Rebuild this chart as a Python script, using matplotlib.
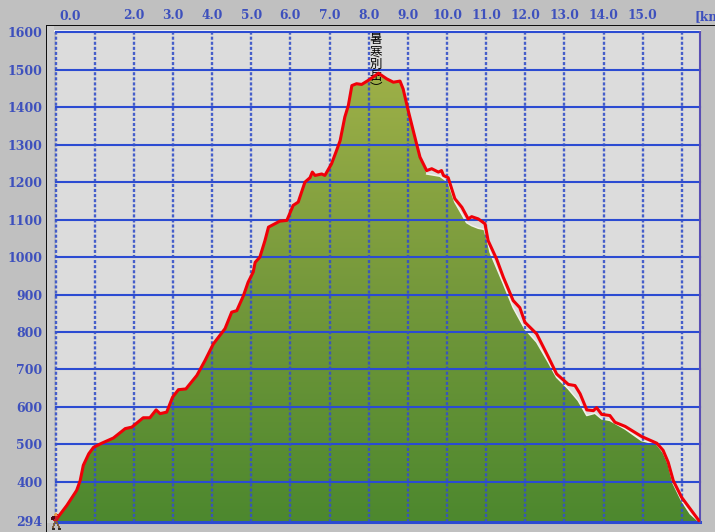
import numpy as np
import matplotlib
matplotlib.use("Agg")
import matplotlib.pyplot as plt
from matplotlib.colors import LinearSegmentedColormap
from matplotlib.patches import Polygon, Rectangle

# track line
track_km = [0, .03, .29, .54, .63, .71, .85, .97, 1.18, 1.48, 1.78, 1.95, 2.24, 2.41, 2.57, 2.67, 2.84, 2.99,
            3.14, 3.33, 3.61, 3.82, 4.03, 4.33, 4.50, 4.63, 4.80, 4.92, 5.05, 5.10, 5.22, 5.35, 5.44, 5.73,
            5.91, 6.07, 6.20, 6.37, 6.50, 6.56, 6.63, 6.80, 6.88, 7.05, 7.18, 7.27, 7.39, 7.48, 7.57, 7.69,
            7.82, 7.99, 8.25, 8.46, 8.63, 8.80, 8.88, 9.01, 9.18, 9.31, 9.48, 9.61, 9.78, 9.86, 9.91, 10.03,
            10.20, 10.38, 10.54, 10.63, 10.80, 10.97, 11.05, 11.27, 11.44, 11.69, 11.86, 11.99, 12.29, 12.59,
            12.80, 13.10, 13.27, 13.40, 13.57, 13.74, 13.82, 13.95, 14.16, 14.29, 14.55, 14.97, 15.36, 15.52,
            15.65, 15.78, 15.99, 16.21, 16.43]
track_m = [294, 301, 337, 377, 403, 444, 475, 492, 503, 517, 542, 546, 571, 571, 592, 582, 586, 626,
           646, 648, 684, 724, 768, 809, 853, 857, 897, 933, 960, 986, 1000, 1044, 1080, 1096,
           1098, 1138, 1147, 1200, 1212, 1227, 1218, 1222, 1218, 1249, 1285, 1311, 1374, 1405, 1458, 1463,
           1461, 1472, 1491, 1476, 1467, 1470, 1449, 1391, 1320, 1267, 1231, 1236, 1227, 1231, 1218, 1212,
           1156, 1133, 1102, 1108, 1102, 1089, 1044, 994, 946, 884, 865, 826, 795, 733,
           688, 660, 657, 635, 592, 590, 598, 580, 577, 559, 548, 521, 503, 484,
           452, 403, 359, 328, 297]

# ground surface, sits a little below the track on the way down
ground_km = [9.48, 9.82, 10.03, 10.20, 10.50, 10.63, 10.80, 10.95, 11.05, 11.10, 11.44, 11.69, 11.99, 12.29,
             12.59, 12.80, 13.10, 13.35, 13.57, 13.78, 13.95, 14.16, 14.55, 14.97, 15.36, 15.52, 15.65, 15.78,
             15.99, 16.21, 16.40]
ground_m = [1222, 1216, 1200, 1147, 1092, 1084, 1077, 1074, 1036, 1013, 929, 865, 808, 773,
            719, 679, 648, 617, 577, 583, 568, 564, 541, 510, 500, 479, 448, 395,
            350, 315, 297]

x_ticks = [2, 3, 4, 5, 6, 7, 8, 9, 10, 11, 12, 13, 14, 15]
x_lines = list(range(0, 17))
y_lines = [400, 500, 600, 700, 800, 900, 1000, 1100, 1200, 1300, 1400, 1500, 1600]
y_labels = [294] + y_lines
peak_name = "暑寒別岳︶"
peak_km = 8.18

BLUE = "#2b4bd2"
LABEL = "#3d50bd"

plt.rcParams['font.family'] = ['Noto Sans CJK JP', 'DejaVu Sans']

fig = plt.figure(figsize=(7.15, 5.32), dpi=100, facecolor="#c0c0c0")
W, H = 715.0, 532.0


def px_rect(x0, y0, x1, y1, color, z=0):
    fig.add_artist(Rectangle((x0 / W, 1 - y1 / H), (x1 - x0) / W, (y1 - y0) / H, transform=fig.transFigure,
                             facecolor=color, edgecolor="none", zorder=z))


# frame around the plot
px_rect(47, 26, 54, 523, "#cdcdcd")
px_rect(54, 30, 701, 32, "#f4f4f4")
px_rect(46, 25, 715, 26, "#101010")
px_rect(46, 25, 47, 532, "#101010")

ax = fig.add_axes([55.5 / W, 1 - 521.5 / H, 644 / W, 490 / H], facecolor="#dcdcdc")
xmax = 644 / 39.15

# gradient ground
keep = [i for i, k in enumerate(track_km) if k <= 9.31]
fill_x = [track_km[i] for i in keep] + ground_km + [xmax, 0]
fill_y = [track_m[i] for i in keep] + ground_m + [290, 290]
cmap = LinearSegmentedColormap.from_list("ground", ["#4d882e", "#74983b", "#9eb048"])
grad = np.linspace(0, 1, 256).reshape(-1, 1)
img = ax.imshow(grad, origin="lower", aspect="auto", cmap=cmap, extent=[0, xmax, 294, 1500], zorder=1)
poly = Polygon(np.column_stack([fill_x, fill_y]), closed=True, transform=ax.transData, facecolor="none",
               edgecolor="none")
ax.add_patch(poly)
img.set_clip_path(poly)
ax.set_xlim(0, xmax)
ax.set_ylim(294, 294 + 490 / 0.3745)
ax.plot(ground_km, ground_m, color="#f2f2ea", lw=1.1, zorder=1.5)

for v in y_lines:
    ax.axhline(v, color=BLUE, lw=1.5, zorder=2, clip_on=False)
ax.axhline(294, color=BLUE, lw=2.2, zorder=2, clip_on=False)
for v in x_lines:
    ax.axvline(v, color="#3550c8", lw=1.7, dashes=(1.3, 0.85), alpha=0.9, zorder=2.2, clip_on=False)

ax.text(peak_km, 1598, "\n".join(peak_name), ha="center", va="top", fontsize=9, color="black",
        linespacing=0.93, zorder=3)
ax.plot(track_km, track_m, color="#f00008", lw=2.2, solid_joinstyle="round", zorder=4)

for s in ["top", "left", "bottom"]:
    ax.spines[s].set_visible(False)
ax.spines["right"].set_color("#5a4fb4")
ax.spines["right"].set_linewidth(1.5)

ax.xaxis.tick_top()
ax.set_xticks(x_ticks)
ax.set_xticklabels(["%.1f" % v for v in x_ticks], family="DejaVu Serif", weight="bold", fontsize=8.8, color=LABEL)
ax.set_yticks(y_labels)
ax.set_yticklabels([str(v) for v in y_labels], family="DejaVu Serif", weight="bold", fontsize=9, color=LABEL)
ax.tick_params(axis="x", length=0, pad=6.5)
ax.tick_params(axis="y", length=0, pad=9.5)
ax.annotate("0.0", (0, 1600), xytext=(15, 16), textcoords="offset pixels", ha="center", va="center",
            family="DejaVu Serif", weight="bold", fontsize=8.8, color=LABEL, annotation_clip=False)
ax.annotate("[km", (xmax, 1600), xytext=(-5, 16), textcoords="offset pixels", ha="left", va="center",
            family="DejaVu Serif", weight="bold", fontsize=8.8, color=LABEL, annotation_clip=False)

# little hiker at the start point
colors = {".": (0, 0, 0, 0), "o": (.9, .6, .3, 1), "r": (.8, .1, .15, 1), "m": (.3, .05, .1, 1),
          "b": (.5, .38, .25, 1), "k": (.2, .17, .15, 1)}
sprite = ["....oo....",
          "...ooor...",
          "...ooo....",
          ".mmmrr....",
          "mmmmrrr...",
          "mmmmrrr...",
          "mmmrrr....",
          "..rrrrr...",
          "...bbb....",
          "...bbbb...",
          "..bb.bb...",
          "..bb..bb..",
          "..bb..bb..",
          ".bb....bb.",
          ".bb....bb.",
          ".kkk...kkk",
          ".kkk...kkk"]
arr = np.array([[colors[c] for c in row] for row in sprite])
fig.figimage(arr, xo=51, yo=int(H - 530), origin="upper", resize=False, zorder=10)

fig.savefig("out.png", dpi=100, facecolor=fig.get_facecolor())
